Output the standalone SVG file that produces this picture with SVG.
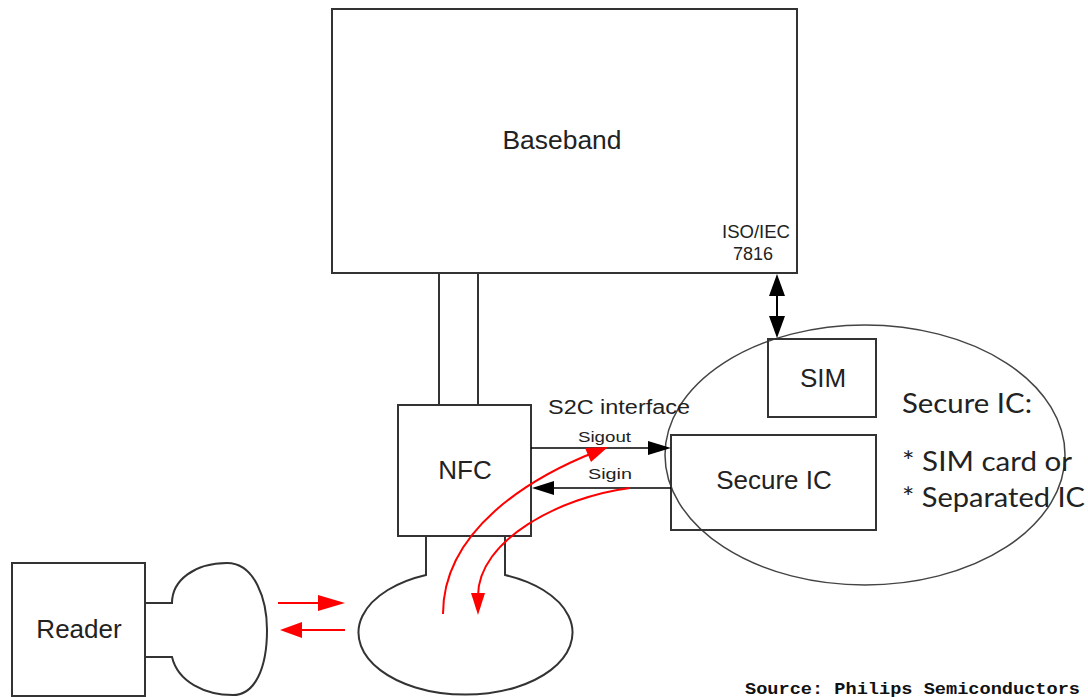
<svg xmlns="http://www.w3.org/2000/svg" width="1088" height="697" viewBox="0 0 1088 697">
<style>
.box{fill:none;stroke:#333;stroke-width:2}
.thin{fill:none;stroke:#444;stroke-width:1.5}
.lbl{font-family:"Liberation Sans",Arial,sans-serif;fill:#222}
.gill{font-family:Lato,"Open Sans",sans-serif;fill:#222}
.red{fill:none;stroke:#f00;stroke-width:2}
.redh{fill:#f00}
.blk{fill:#000}
</style>
<rect width="1088" height="697" fill="#fff"/>
<g id="secure-ellipse">
<ellipse cx="865" cy="455" rx="200" ry="130" class="thin"/>
<text class="gill" x="902" y="413" font-size="27" textLength="130" lengthAdjust="spacingAndGlyphs">Secure IC:</text>
<text class="gill" x="902" y="471" font-size="27" textLength="170" lengthAdjust="spacingAndGlyphs">* SIM card or</text>
<text class="gill" x="902" y="507" font-size="27" textLength="183" lengthAdjust="spacingAndGlyphs">* Separated IC</text>
</g>
<g id="baseband">
<rect x="332" y="9" width="465" height="264" class="box"/>
<text class="lbl" x="562" y="149" font-size="25" text-anchor="middle" textLength="119" lengthAdjust="spacingAndGlyphs">Baseband</text>
<text class="lbl" x="756" y="238" font-size="18" text-anchor="middle" textLength="68" lengthAdjust="spacingAndGlyphs">ISO/IEC</text>
<text class="lbl" x="753" y="260" font-size="18" text-anchor="middle">7816</text>
</g>
<g id="nfc">
<rect x="398" y="405" width="133" height="131" class="box"/>
<text class="lbl" x="465" y="479" font-size="26" text-anchor="middle">NFC</text>
</g>
<g id="sim">
<rect x="768" y="339" width="108" height="78" class="box"/>
<text class="lbl" x="823" y="387" font-size="26" text-anchor="middle">SIM</text>
</g>
<g id="secure-ic">
<rect x="671" y="435" width="205" height="95" class="box"/>
<text class="lbl" x="774" y="489" font-size="26" text-anchor="middle">Secure IC</text>
</g>
<g id="reader">
<rect x="12" y="563" width="133" height="133" class="box"/>
<text class="lbl" x="79" y="638" font-size="26" text-anchor="middle">Reader</text>
<path class="box" d="M145,603 L172,603 C172,580 195,563 227,563 C255,563 267,600 267,630 C267,668 255,695 233,695 C205,695 178,682 172,657 L145,657"/>
</g>
<g id="nfc-antenna">
<path class="box" d="M426,536 V575 A107,62 0 1 0 505,575 V536"/>
</g>
<g id="connectors">
<line x1="439" y1="273" x2="439" y2="405" class="box"/>
<line x1="478" y1="273" x2="478" y2="405" class="box"/>
<line x1="777" y1="290" x2="777" y2="320" stroke="#000" stroke-width="2"/>
<polygon class="blk" points="777,274 769,296 785,296"/>
<polygon class="blk" points="777,338 769,316 785,316"/>
<line x1="531" y1="448" x2="652" y2="448" stroke="#000" stroke-width="1.5"/>
<polygon class="blk" points="671,448 648,441 648,455"/>
<line x1="550" y1="488" x2="671" y2="488" stroke="#000" stroke-width="1.5"/>
<polygon class="blk" points="532,488 554,481 554,495"/>
<text class="lbl" x="548" y="414" font-size="20" textLength="142" lengthAdjust="spacingAndGlyphs">S2C interface</text>
<text class="lbl" x="578" y="442" font-size="15" textLength="53" lengthAdjust="spacingAndGlyphs">Sigout</text>
<text class="lbl" x="588" y="479" font-size="15" textLength="44" lengthAdjust="spacingAndGlyphs">Sigin</text>
<path class="red" d="M443,614 C443,530 530,478 595,452"/>
<polygon class="redh" points="608,447 585,448 591,462"/>
<path class="red" d="M630,488 C560,497 478,540 478,596"/>
<polygon class="redh" points="478,615 471,593 485,593"/>
<line x1="278" y1="603" x2="322" y2="603" class="red"/>
<polygon class="redh" points="345,603 318,595 318,611"/>
<line x1="300" y1="630" x2="345" y2="630" class="red"/>
<polygon class="redh" points="280,630 302,622 302,638"/>
</g>
<text x="1080" y="694" font-family="Liberation Mono,monospace" font-weight="bold" font-size="17" text-anchor="end" textLength="335" lengthAdjust="spacingAndGlyphs" fill="#111">Source: Philips Semiconductors</text>
</svg>
